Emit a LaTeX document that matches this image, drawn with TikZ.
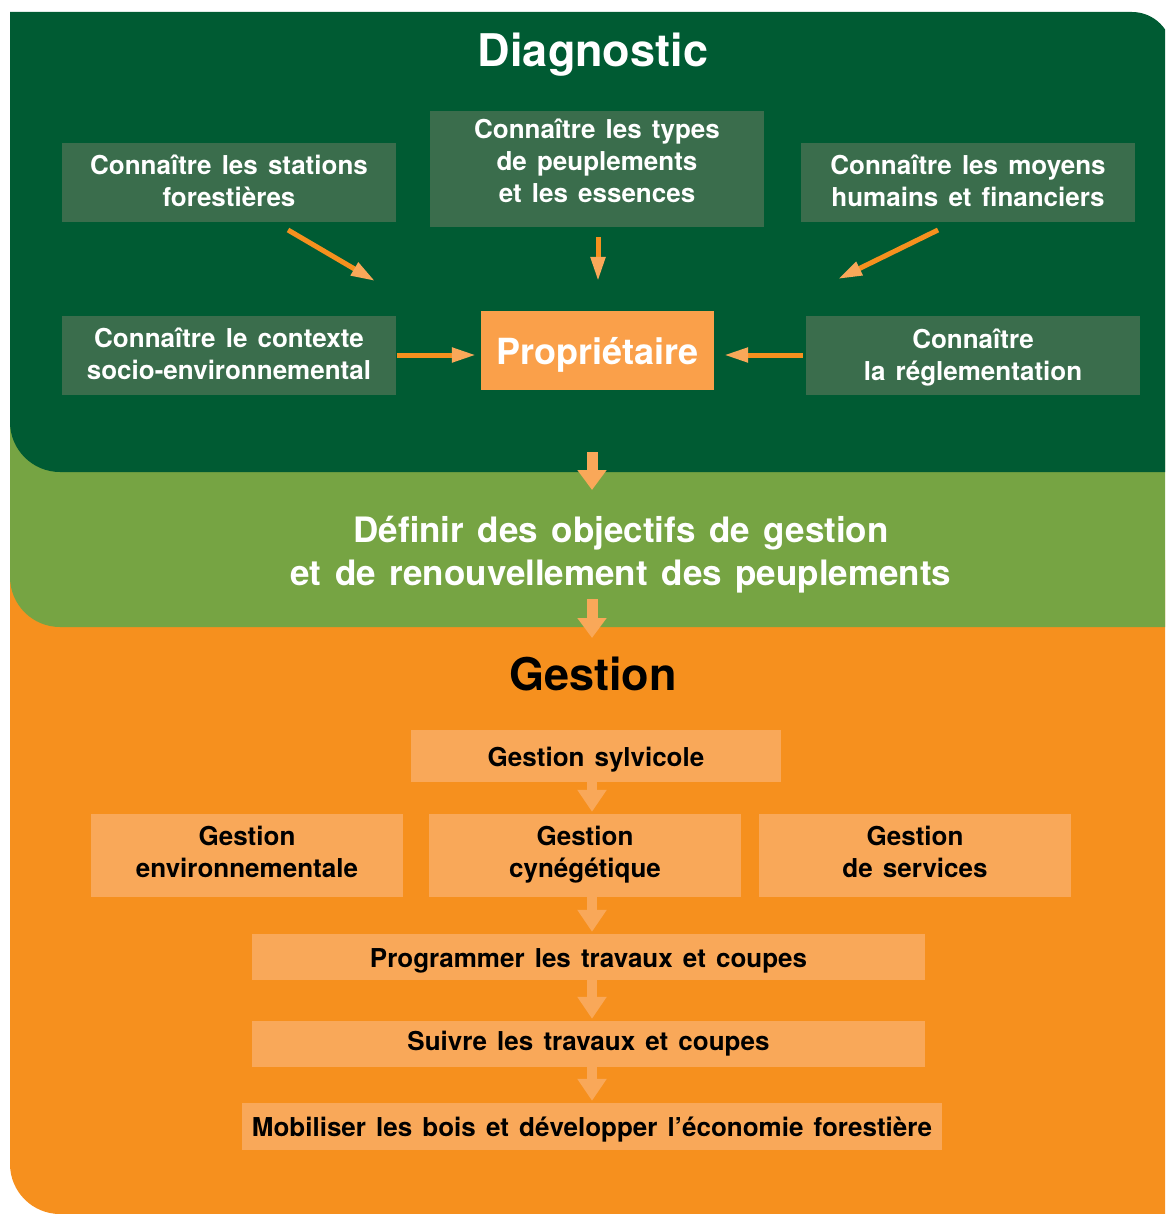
\documentclass[tikz,border=0pt]{standalone}
\usepackage{fontspec}
\setmainfont{TeX Gyre Heros}
\usetikzlibrary{arrows.meta,positioning}

\definecolor{dkgreen}{RGB}{0,91,51}
\definecolor{boxgreen}{RGB}{58,109,76}
\definecolor{ltgreen}{RGB}{118,164,67}
\definecolor{gestorange}{RGB}{246,144,30}
\definecolor{orlight}{RGB}{249,168,89}
\definecolor{propfill}{RGB}{250,160,74}

% wider word spaces
\newcommand\widespace{\spaceskip=0.39em plus 0.1em\relax}

\tikzset{
  title/.style={font=\fontsize{45}{54}\selectfont\bfseries, anchor=base, inner sep=0pt},
  boxfont/.style={font=\fontsize{26}{32}\selectfont\bfseries\widespace},
  diagbox/.style={boxfont, fill=boxgreen, text=white, text depth=4pt,
    align=center, inner sep=0pt, minimum width=334pt, minimum height=79pt},
  gestbox/.style={boxfont, fill=orlight, text=black,
    align=center, inner sep=0pt},
  oneline/.style={text height=23pt, text depth=3pt},
  twoline/.style={text depth=8pt, minimum width=312pt, minimum height=83pt},
  thinarrow/.style={draw=gestorange, line width=5pt,
    -{Triangle[length=24pt,width=14pt,color=orlight]}},
  bigarrow/.style={draw=orlight, line width=11pt, -{Triangle[length=20pt,width=28pt]}},
  gestarrow/.style={draw=orlight, line width=10pt, -{Triangle[length=22pt,width=28pt]},
    shorten >=2pt}
}

\begin{document}
\begin{tikzpicture}[x=1pt,y=-1pt]
  % Page frame
  \useasboundingbox (0,0) rectangle (1165,1214);
  \clip (0,0) rectangle (1165,1214);

  % Draw background panels
  \fill[gestorange] (10,560) -- (10,1164) arc[start angle=180,end angle=90,radius=50]
    -- (1180,1214) -- (1180,560) -- cycle;
  \fill[ltgreen] (10,420) -- (10,577) arc[start angle=180,end angle=90,radius=50]
    -- (1180,627) -- (1180,420) -- cycle;
  \fill[dkgreen] (10,12) -- (1132,12) arc[start angle=270,end angle=360,radius=40]
    -- (1172,472) -- (60,472) arc[start angle=90,end angle=180,radius=50] -- cycle;

  % Diagnostic
  \node[title, text=white] (diag) at (593,67) {Diagnostic};

  % Draw outer boxes
  \node[diagbox] (stations) at (229,182.5) {Connaître les stations\\forestières};
  \node[diagbox, minimum height=116pt, text depth=16pt] (types) at (597,169) {Connaître les types\\de peuplements\\et les essences};
  \node[diagbox] (moyens) at (968,182.5) {Connaître les moyens\\humains et financiers};
  \node[diagbox] (contexte) at (229,355.5) {Connaître le contexte\\socio-environnemental};
  \node[diagbox, text depth=1.5pt] (regle) at (973,355.5) {Connaître\\la réglementation};

  % Draw owner box
  \node[fill=propfill, text=white, font=\fontsize{36}{43}\selectfont\bfseries, inner sep=0pt,
    text height=30pt, text depth=3pt,
    minimum width=233pt, minimum height=79pt] (prop) at (597.5,350.5) {Propriétaire};

  % Draw arrows towards owner
  \coordinate (s1) at (288,230);
  \coordinate (e1) at (375,281);
  \coordinate (s2) at (598,237);
  \coordinate (e2) at (598,281);
  \coordinate (s3) at (938,230);
  \coordinate (e3) at (838,279);
  \draw[thinarrow] (s1) -- (e1);
  \draw[thinarrow] (s2) -- (e2);
  \draw[thinarrow] (s3) -- (e3);
  \draw[thinarrow, shorten <=1pt, shorten >=5pt] (contexte.east |- 0,355) -- (prop.west |- 0,355);
  \draw[thinarrow, shorten <=3pt, shorten >=10pt] (regle.west |- 0,355) -- (prop.east |- 0,355);

  % Objectives
  \coordinate (axis) at (592,0);
  \coordinate (d1) at (592,452);
  \coordinate (d2) at (592,490);
  \draw[bigarrow] (d1) -- (d2);
  \node[text=white, font=\fontsize{35}{43}\selectfont\bfseries\widespace, align=center, inner sep=0pt]
    (objectifs) at (621,555) {Définir des objectifs de gestion\\et de renouvellement des peuplements};
  \coordinate (g1) at (592,599);
  \coordinate (g2) at (592,638);
  \draw[bigarrow] (g1) -- (g2);

  % Gestion
  \node[title, text=black] (gestion) at (593,690) {Gestion};
  \node[gestbox, oneline, minimum width=370pt, minimum height=52pt] (sylv) at (596,756) {Gestion sylvicole};
  \node[gestbox, twoline] (envir) at (247,855.5) {Gestion\\environnementale};
  \node[gestbox, twoline] (cyn) at (585,855.5) {Gestion\\cynégétique};
  \node[gestbox, twoline] (serv) at (915,855.5) {Gestion\\de services};
  \node[gestbox, oneline, minimum width=673pt, minimum height=46pt] (prog) at (588.5,957) {Programmer les travaux et coupes};
  \node[gestbox, minimum width=673pt, minimum height=46pt] (suivi) at (588.5,1044) {Suivre les travaux et coupes};
  \node[gestbox, oneline, minimum width=700pt, minimum height=47pt] (mobil) at (592,1126.5) {Mobiliser les bois et développer l’économie forestière};

  % Draw connection arrows
  \draw[gestarrow] (sylv.south -| axis) -- (cyn.north -| axis);
  \draw[gestarrow] (cyn.south -| axis) -- (prog.north -| axis);
  \draw[gestarrow] (prog.south -| axis) -- (suivi.north -| axis);
  \draw[gestarrow] (suivi.south -| axis) -- (mobil.north -| axis);
\end{tikzpicture}
\end{document}
